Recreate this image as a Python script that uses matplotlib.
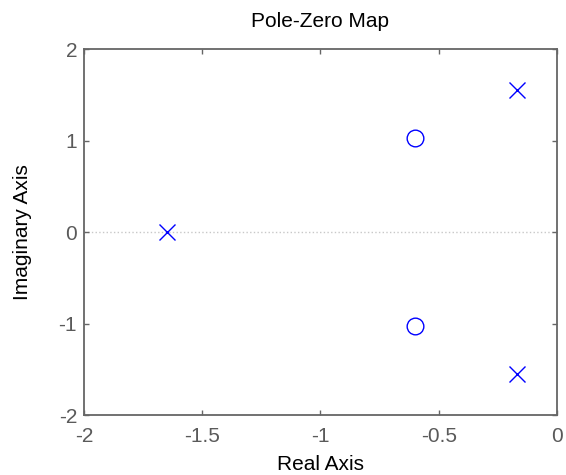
import matplotlib
matplotlib.use("Agg")
import matplotlib.pyplot as plt

plt.rcParams['font.family'] = ['Liberation Sans', 'DejaVu Sans']

pole_re = [-1.65, -0.17, -0.17]
pole_im = [0.0, 1.55, -1.55]
zero_re = [-0.6, -0.6]
zero_im = [1.03, -1.03]
xticks = [-2, -1.5, -1, -0.5, 0]
xtick_labels = ['-2', '-1.5', '-1', '-0.5', '0']
yticks = [-2, -1, 0, 1, 2]
ytick_labels = ['-2', '-1', '0', '1', '2']

fig = plt.figure(figsize=(5.66, 4.75), dpi=100)
ax = fig.add_axes([0.1484, 0.1263, 0.8356, 0.7705])
ax.axhline(0, color='#c8c8c8', linestyle=':', linewidth=1, zorder=1)
ax.plot(pole_re, pole_im, linestyle='none', marker='x', color='#0000ff',
        markersize=11.5, markeredgewidth=1.0, zorder=3)
ax.plot(zero_re, zero_im, linestyle='none', marker='o', markerfacecolor='none',
        markeredgecolor='#0000ff', markersize=12, markeredgewidth=1.0, zorder=3)
ax.set_xlim(-2, 0)
ax.set_ylim(-2, 2)
ax.set_xticks(xticks)
ax.set_xticklabels(xtick_labels)
ax.set_yticks(yticks)
ax.set_yticklabels(ytick_labels)
gray = '#666666'
for s in ax.spines.values():
    s.set_color(gray)
    s.set_linewidth(1.3)
ax.tick_params(direction='in', length=3.6, width=1, colors=gray, labelcolor='#5a5a5a',
               labelsize=15, top=True, right=True)
ax.tick_params(axis='x', pad=8.5)
ax.tick_params(axis='y', pad=5)
ax.set_title('Pole-Zero Map', fontsize=15, color='black', pad=16)
ax.set_xlabel('Real Axis', fontsize=15, color='black')
ax.set_ylabel('Imaginary Axis', fontsize=15, color='black')
ax.xaxis.set_label_coords(0.5, -0.108)
ax.yaxis.set_label_coords(-0.11, 0.5)
fig.savefig('out.png', dpi=100)
